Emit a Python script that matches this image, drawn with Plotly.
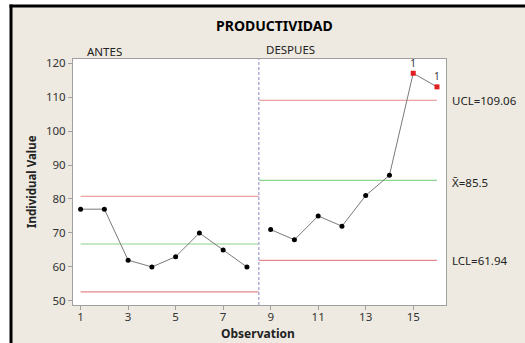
import plotly.graph_objects as go

# Individual values per observation, grouped by stage
stages = ["ANTES", "DESPUES"]
obs_antes = [1, 2, 3, 4, 5, 6, 7, 8]
val_antes = [77, 77, 62, 60, 63, 70, 65, 60]
obs_despues = [9, 10, 11, 12, 13, 14, 15, 16]
val_despues = [71, 68, 75, 72, 81, 87, 117, 113]

# Control limits per stage
ucl = [80.81, 109.06]
center = [66.75, 85.5]
lcl = [52.69, 61.94]

x_ticks = [1, 3, 5, 7, 9, 11, 13, 15]
y_ticks = [50, 60, 70, 80, 90, 100, 110, 120]

W, H = 525, 343
L, R, T, B = 73, 79, 59, 38
PW, PH = W - L - R, H - T - B


def px(x):
    return (x - L) / PW


def py(y):
    return (H - B - y) / PH


FONT = "Noto Sans"
BG = "#EEEAE1"
RED = "#E58A8A"
GREEN = "#8CD48C"
TXT = "#222222"

fig = go.Figure()

obs_groups = [obs_antes, obs_despues]
val_groups = [val_antes, val_despues]
boundary = (obs_antes[-1] + obs_despues[0]) / 2
seg_start = [obs_antes[0], boundary]
seg_end = [boundary, obs_despues[-1]]

for i in range(2):
    xs, ys = obs_groups[i], val_groups[i]
    # limit lines for the stage
    for val, col in ((ucl[i], RED), (center[i], GREEN), (lcl[i], RED)):
        fig.add_trace(go.Scatter(x=[seg_start[i], seg_end[i]], y=[val, val],
                                 mode="lines", line=dict(color=col, width=1.2),
                                 hoverinfo="skip", showlegend=False))
    # connecting line
    fig.add_trace(go.Scatter(x=xs, y=ys, mode="lines",
                             line=dict(color="#7a7a7a", width=1),
                             showlegend=False))
    inside = [(x, y) for x, y in zip(xs, ys) if lcl[i] <= y <= ucl[i]]
    outside = [(x, y) for x, y in zip(xs, ys) if not (lcl[i] <= y <= ucl[i])]
    fig.add_trace(go.Scatter(x=[p[0] for p in inside], y=[p[1] for p in inside],
                             mode="markers",
                             marker=dict(color="black", size=5, symbol="circle"),
                             showlegend=False))
    fig.add_trace(go.Scatter(x=[p[0] for p in outside], y=[p[1] for p in outside],
                             mode="markers+text",
                             marker=dict(color="#E02020", size=5, symbol="square"),
                             text=["1"] * len(outside), textposition="top center",
                             textfont=dict(family=FONT, size=10, color="#333333"),
                             showlegend=False))

shapes = [
    # stage divider
    dict(type="line", xref="x", yref="paper", x0=boundary, x1=boundary, y0=0, y1=1,
         line=dict(color="#B0B0DA", width=1.5, dash="3px,2px")),
    # white strips outside the frame
    dict(type="rect", xref="paper", yref="paper", x0=px(-5), x1=px(10),
         y0=py(H + 5), y1=py(-5), fillcolor="white", line=dict(width=0)),
    dict(type="rect", xref="paper", yref="paper", x0=px(-5), x1=px(W + 5),
         y0=py(5), y1=py(-5), fillcolor="white", line=dict(width=0)),
    # black frame edges
    dict(type="line", xref="paper", yref="paper", x0=px(11), x1=px(11),
         y0=py(4.5), y1=py(H + 5), line=dict(color="black", width=3)),
    dict(type="line", xref="paper", yref="paper", x0=px(9.5), x1=px(W + 5),
         y0=py(6), y1=py(6), line=dict(color="black", width=3)),
]


def label(text, x, y, size=11.5, xanchor="center", yref="paper", **kw):
    return dict(text=text, xref="paper", yref=yref, x=x, y=y, xanchor=xanchor,
                yanchor="middle", showarrow=False,
                font=dict(family=FONT, size=size, color=kw.pop("color", TXT)), **kw)


annotations = [
    label("<b>PRODUCTIVIDAD</b>", px(274), py(25), size=14, color="black"),
    label(stages[0], px(85), py(51), xanchor="left"),
    label(stages[1], px(264), py(50), xanchor="left"),
    label("<b>Individual Value</b>", px(31), py(182), textangle=-90),
    label("<b>Observation</b>", px(258), py(333), size=12),
    label("UCL=%.2f" % ucl[1], px(450), ucl[1], xanchor="left", yref="y"),
    label("X\u0304=%g" % center[1], px(450), center[1], xanchor="left", yref="y",
          yshift=-2),
    label("LCL=%.2f" % lcl[1], px(450), lcl[1], xanchor="left", yref="y"),
]

axis_common = dict(showgrid=False, zeroline=False, showline=True, mirror=True,
                   linecolor="#A0A0A0", linewidth=1, ticks="outside", ticklen=4,
                   tickcolor="#A0A0A0", tickfont=dict(family=FONT, size=11.5, color="#333"))

fig.update_layout(
    width=W, height=H,
    margin=dict(l=L, r=R, t=T, b=B),
    paper_bgcolor=BG, plot_bgcolor="white",
    xaxis=dict(range=[0.68, 16.38], tickvals=x_ticks, ticklabelstandoff=-3,
               **axis_common),
    yaxis=dict(range=[48.8, 121.2], tickvals=y_ticks, **axis_common),
    shapes=shapes, annotations=annotations,
    showlegend=False,
)

fig.write_html("out.html")
